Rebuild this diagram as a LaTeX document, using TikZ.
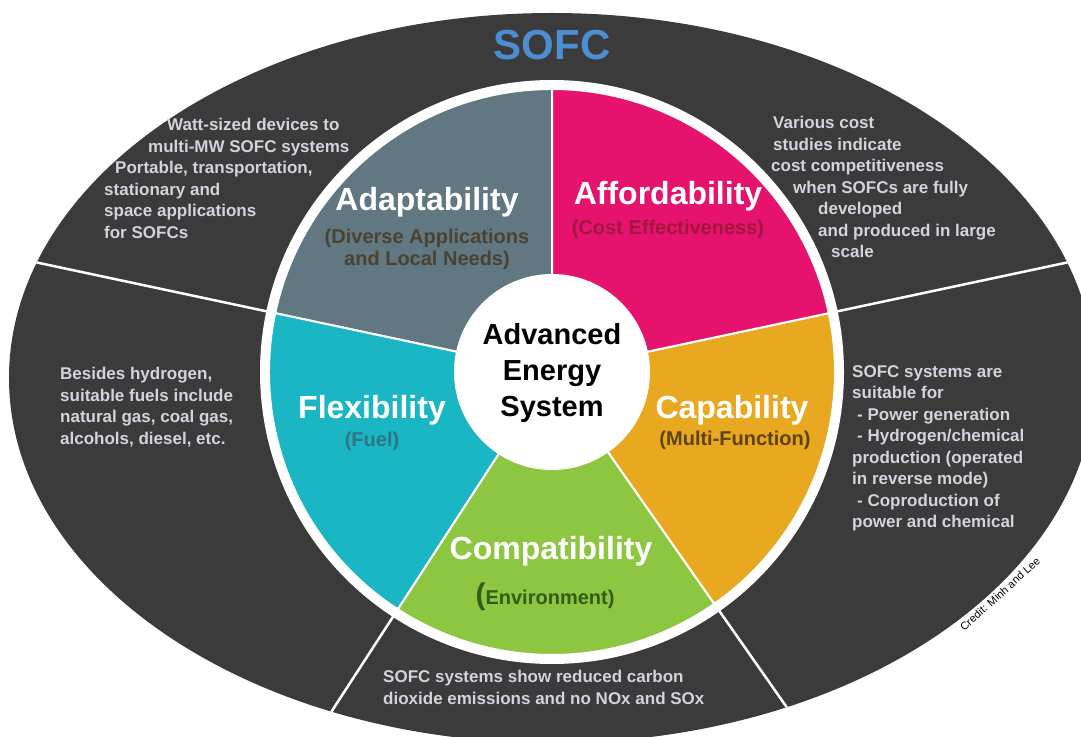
\documentclass[tikz,border=0pt]{standalone}
\usepackage{fontspec}
\setmainfont{Liberation Sans}
\usepackage{xcolor}
\usepackage{tikz}
\definecolor{ringgray}{HTML}{3B3B3B}
\definecolor{ringtext}{HTML}{D2D3DC}
\definecolor{adaptcol}{HTML}{617782}
\definecolor{affordcol}{HTML}{E5136D}
\definecolor{capabcol}{HTML}{E8A81F}
\definecolor{compatcol}{HTML}{8DC641}
\definecolor{flexcol}{HTML}{1BB6C3}
\definecolor{sofcblue}{HTML}{4D8ED3}
\definecolor{adaptsub}{HTML}{4B4330}
\definecolor{affordsub}{HTML}{A3163F}
\definecolor{capabsub}{HTML}{5E4212}
\definecolor{compatsub}{HTML}{355A14}
\definecolor{flexsub}{HTML}{2D7683}

\begin{document}
\begin{tikzpicture}[x=1pt, y=1pt, every node/.style={font=\bfseries, inner sep=0pt},
        sector/.style={draw=white, line width=2pt},
        head/.style={text=white, font=\bfseries\fontsize{32}{32}\selectfont},
        sub/.style={font=\bfseries\fontsize{20}{22}\selectfont, align=center},
        note/.style={text=ringtext, font=\bfseries\fontsize{17}{21.5}\selectfont,
        align=left, anchor=north west}]
        \fill[white] (-552,-364) rectangle (529,372);
        \useasboundingbox (-552,-364) rectangle (529,372);
        \fill[ringgray] (0,-6) ellipse [x radius=543, y radius=365];
        \begin{scope}
        \clip (0,-6) ellipse [x radius=543, y radius=365];
        \draw[white, line width=2.5pt] (168:290) -- (168:700);
        \draw[white, line width=2.5pt] (12:290) -- (12:700);
        \draw[white, line width=2.5pt] (237:290) -- (237:700);
        \draw[white, line width=2.5pt] (305:290) -- (305:700);
        \end{scope}
        \node[text=sofcblue, font=\bfseries\fontsize{42}{42}\selectfont] (sofc) 
        at (0,327) {SOFC};
        \node[note] (adaptnote) at (-448,254) {\hspace*{63pt}Watt-sized devices to\\
        \hspace*{44pt}multi-MW SOFC systems\\ \hspace*{11pt}Portable, transportation,\\
        stationary and\\ space applications\\ for SOFCs};
        \node[note] (affordnote) at (219,256) {\hspace*{2pt}Various cost\\
        \hspace*{2pt}studies indicate\\ cost competitiveness\\
        \hspace*{22pt}when SOFCs are fully\\ \hspace*{47pt}developed\\
        \hspace*{47pt}and produced in large\\ \hspace*{60pt}scale};
        \node[note] (capabnote) at (300,7) {SOFC systems are\\ suitable for\\
        \hspace*{5pt}- Power generation\\ \hspace*{5pt}- Hydrogen/chemical\\
        production (operated\\ in reverse mode)\\ \hspace*{5pt}- Coproduction of\\
        power and chemical};
        \node[note] (flexnote) at (-492,5) {Besides hydrogen,\\ suitable fuels include\\
        natural gas, coal gas,\\ alcohols, diesel, etc.};
        \node[note] (compatnote) at (-169,-298) {SOFC systems show reduced carbon\\
        dioxide emissions and no NOx and SOx};
        \fill[white] (0,0) circle [radius=292];
        \filldraw[sector, fill=adaptcol] 
        (0,0) -- (90:283) arc [start angle=90, end angle=168, radius=283] -- cycle;
        \filldraw[sector, fill=flexcol] 
        (0,0) -- (168:283) arc [start angle=168, end angle=237, radius=283] -- cycle;
        \filldraw[sector, fill=compatcol] 
        (0,0) -- (237:283) arc [start angle=237, end angle=305, radius=283] -- cycle;
        \filldraw[sector, fill=capabcol] 
        (0,0) -- (305:283) arc [start angle=305, end angle=372, radius=283] -- cycle;
        \filldraw[sector, fill=affordcol] 
        (0,0) -- (12:283) arc [start angle=12, end angle=90, radius=283] -- cycle;
        \fill[white] (0,0) circle [radius=98];
        \node[align=center, font=\bfseries\fontsize{29}{36}\selectfont] (core) 
        at (0,-1) {Advanced\\Energy\\System};
        \node[head] (adapt) at (-125,170) {Adaptability};
        \node[sub, text=adaptsub] (adaptlbl) at (-125,123) 
        {(Diverse Applications\\and Local Needs)};
        \node[head] (afford) at (116,176) {Affordability};
        \node[sub, text=affordsub] (affordlbl) at (116,143) {(Cost Effectiveness)};
        \node[head] (flex) at (-180,-38) {Flexibility};
        \node[sub, text=flexsub] (flexlbl) at (-180,-69) {(Fuel)};
        \node[head] (capab) at (180,-38) {Capability};
        \node[sub, text=capabsub] (capablbl) at (183,-68) {(Multi-Function)};
        \node[head] (compat) at (-1,-179) {Compatibility};
        \node[sub, text=compatsub] (compatlbl) at (-7,-225) 
        {{\fontsize{30}{30}\selectfont(}Environment)};
        \node[rotate=42, font=\fontsize{11}{11}\selectfont] (credit) 
        at (448,-222) {Credit: Minh and Lee};
    \end{tikzpicture}
\end{document}
